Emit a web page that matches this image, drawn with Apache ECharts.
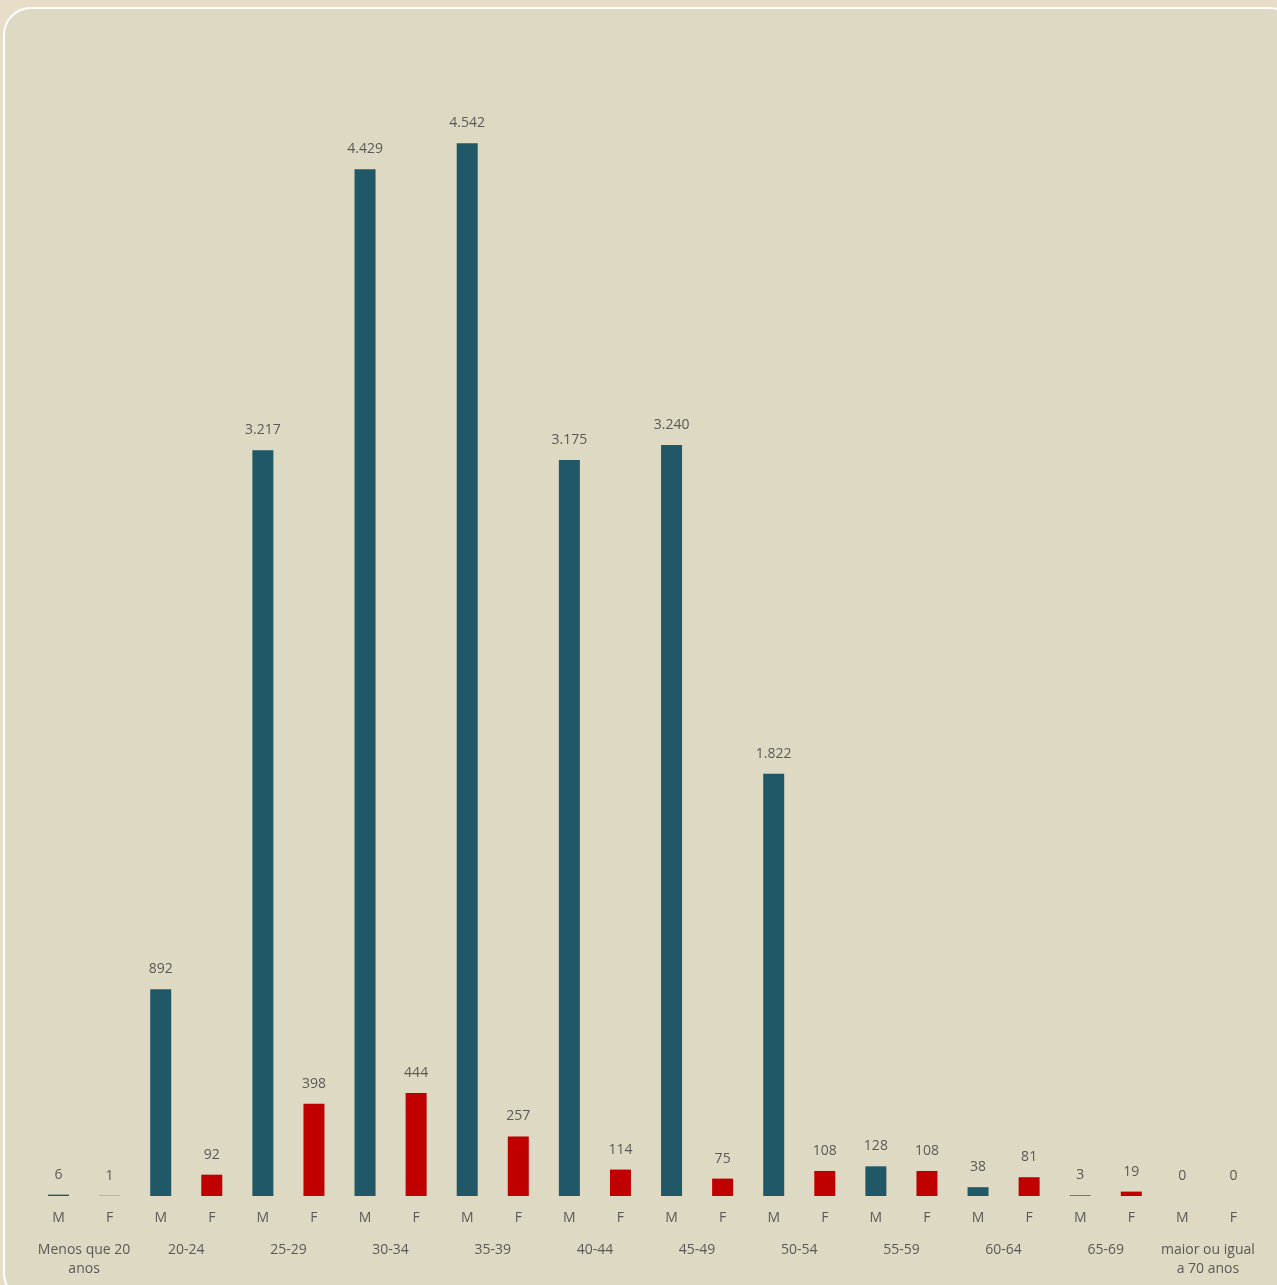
<!DOCTYPE html>
<html>
<head>
<meta charset="utf-8">
<script src="https://cdn.jsdelivr.net/npm/echarts@6/dist/echarts.min.js"></script>
<style>
html,body{margin:0;padding:0;background:#E7DDC9;width:1277px;height:1285px;overflow:hidden;}
#frame{position:absolute;left:3px;top:7px;width:1290px;height:1290px;border:2px solid #ffffff;border-radius:28px;background:#DED9C3;}
#chart{position:absolute;left:0;top:0;width:1277px;height:1285px;}
</style>
</head>
<body>
<div id="frame"></div>
<div id="chart"></div>
<script>
const groups = ["Menos que 20\nanos","20-24","25-29","30-34","35-39","40-44","45-49","50-54","55-59","60-64","65-69","maior ou igual\na 70 anos"];
const sexes = ["M","F"];
const maleValues = [6,892,3217,4429,4542,3175,3240,1822,128,38,3,0];
const femaleValues = [1,92,398,444,257,114,75,108,108,81,19,0];

const categories = [];
const values = [];
groups.forEach((g,i)=>{
  categories.push(sexes[0]); values.push(maleValues[i]);
  categories.push(sexes[1]); values.push(femaleValues[i]);
});

function fmt(v){ return String(v).replace(/\B(?=(\d{3})+(?!\d))/g,'.'); }

const chart = echarts.init(document.getElementById('chart'), null, {renderer:'canvas'});
const font = "'Open Sans', sans-serif";
chart.setOption({
  backgroundColor:'transparent',
  animation:false,
  grid:{left:33,right:18,top:37,bottom:89,containLabel:false},
  xAxis:[{
    type:'category',data:categories,
    axisLine:{show:false},axisTick:{show:false},
    axisLabel:{color:'#595959',fontSize:14,fontFamily:font,margin:15,interval:0}
  },{
    type:'category',data:groups,position:'bottom',offset:45,
    axisLine:{show:false},axisTick:{show:false},
    axisLabel:{color:'#595959',fontSize:14,fontFamily:font,margin:0,interval:0,lineHeight:19,verticalAlign:'top'}
  }],
  yAxis:{type:'value',min:0,max:5000,show:false,splitLine:{show:false}},
  series:[{
    type:'bar',xAxisIndex:0,data:values,barWidth:21,
    itemStyle:{color:function(p){return p.dataIndex%2===0?'#215868':'#C00000';}},
    label:{show:true,position:'top',distance:13,color:'#595959',fontSize:14,fontFamily:font,
      formatter:function(p){return fmt(p.value);}}
  }]
});
</script>
</body>
</html>
